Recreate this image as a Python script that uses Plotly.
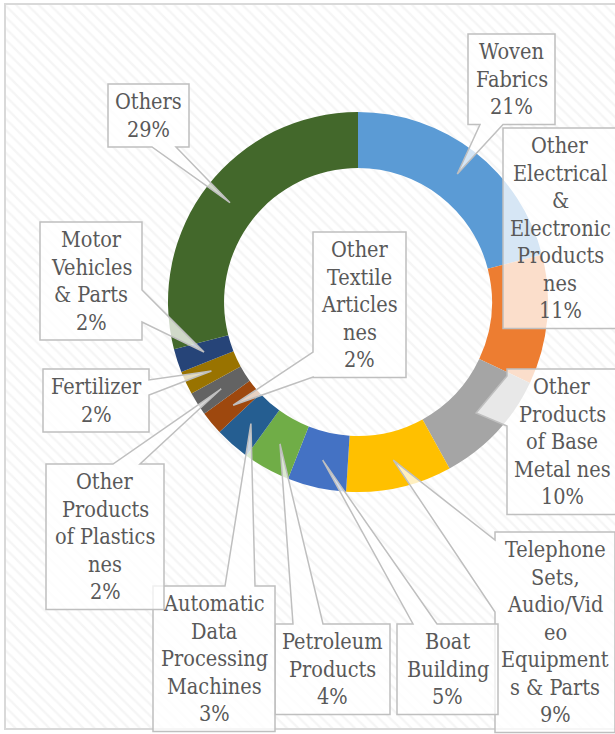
import math
import plotly.graph_objects as go

# ---------------- data ----------------
categories = [
    "Woven Fabrics",
    "Other Electrical & Electronic Products nes",
    "Other Products of Base Metal nes",
    "Telephone Sets, Audio/Video Equipments & Parts",
    "Boat Building",
    "Petroleum Products",
    "Automatic Data Processing Machines",
    "Other Textile Articles nes",
    "Other Products of Plastics nes",
    "Fertilizer",
    "Motor Vehicles & Parts",
    "Others",
]
shares = [21, 11, 10, 9, 5, 4, 3, 2, 2, 2, 2, 29]
label_lines = [
    ["Woven", "Fabrics"],
    ["Other", "Electrical", "&", "Electronic", "Products", "nes"],
    ["Other", "Products", "of Base", "Metal nes"],
    ["Telephone", "Sets,", "Audio/Vid", "eo", "Equipment", "s & Parts"],
    ["Boat", "Building"],
    ["Petroleum", "Products"],
    ["Automatic", "Data", "Processing", "Machines"],
    ["Other", "Textile", "Articles", "nes"],
    ["Other", "Products", "of Plastics", "nes"],
    ["Fertilizer"],
    ["Motor", "Vehicles", "& Parts"],
    ["Others"],
]
colors = ["#5B9BD5", "#ED7D31", "#A5A5A5", "#FFC000", "#4472C4", "#70AD47",
          "#255E91", "#9E480E", "#636363", "#997300", "#264478", "#43682B"]

# ---------------- layout (pixels) ----------------
W, H = 615, 734
CX, CY, R = 358, 302, 190
HOLE = 0.705
LINE_H = 27.5
PAD = 4
FONT_FAMILY = "DejaVu Serif Condensed, DejaVu Serif"
FONT_SIZE = 21.5

# callout boxes: x0, y0, x1, pointer side, pointer base (a, b)
callouts = [
    (468, 34, 555, "bottom", (480, 503)),
    (503, 128, 617, None, None),
    (507, 369, 617, "left", (376, 426)),
    (495, 532, 615, "left", (540, 612)),
    (397, 624, 498, "top", (413, 437)),
    (275, 624, 390, "top", (293, 323)),
    (153, 586, 275, "top", (225, 255)),
    (313, 232, 406, "left", (352, 377)),
    (46, 464, 164, "top", (113, 140)),
    (43, 369, 149, "right", (380, 395)),
    (40, 222, 142, "right", (290, 322)),
    (108, 84, 189, "bottom", (152, 176)),
]

fig = go.Figure()

# hatched chart-area background
fig.add_trace(go.Scatter(
    x=[5, 640, 640, 5, 5], y=[4, 4, 729, 729, 4],
    mode="lines", fill="toself", line=dict(width=0),
    fillcolor="white",
    fillpattern=dict(shape="\\", bgcolor="white", fgcolor="#ececec", size=8, solidity=0.3),
    hoverinfo="skip", showlegend=False,
))

fig.add_trace(go.Pie(
    labels=categories, values=shares,
    marker=dict(colors=colors, line=dict(width=0)),
    hole=HOLE, sort=False, direction="clockwise", rotation=0,
    textinfo="none", showlegend=False,
    domain=dict(x=[(CX - R) / W, (CX + R) / W], y=[1 - (CY + R) / H, 1 - (CY - R) / H]),
))

shapes = [dict(type="rect", xref="x", yref="y", x0=5, y0=4, x1=640, y1=729,
               line=dict(color="#d9d9d9", width=2), fillcolor="rgba(0,0,0,0)", layer="above")]
annotations = []

total = sum(shares)
cum = 0
r_mid = R * (1 + HOLE) / 2
for i, v in enumerate(shares):
    theta = 2 * math.pi * (cum + v / 2) / total
    cum += v
    tx = CX + r_mid * math.sin(theta)
    ty = CY - r_mid * math.cos(theta)
    x0, y0, x1, side, base = callouts[i]
    lines = label_lines[i] + [f"{v}%"]
    y1 = y0 + 2 * PAD + LINE_H * len(lines)
    pts = [(x0, y0)]
    if side == "top":
        pts += [(base[0], y0), (tx, ty), (base[1], y0)]
    pts.append((x1, y0))
    if side == "right":
        pts += [(x1, base[0]), (tx, ty), (x1, base[1])]
    pts.append((x1, y1))
    if side == "bottom":
        pts += [(base[1], y1), (tx, ty), (base[0], y1)]
    pts.append((x0, y1))
    if side == "left":
        pts += [(x0, base[1]), (tx, ty), (x0, base[0])]
    path = "M " + " L ".join(f"{px:.1f},{py:.1f}" for px, py in pts) + " Z"
    shapes.append(dict(type="path", path=path, xref="x", yref="y",
                       fillcolor="rgba(255,255,255,0.75)",
                       line=dict(color="#bfbfbf", width=1.5), layer="above"))
    xc = (x0 + x1) / 2
    for j, t in enumerate(lines):
        annotations.append(dict(
            x=xc, y=y0 + PAD + LINE_H * (j + 0.5), xref="x", yref="y",
            text=t, showarrow=False, xanchor="center", yanchor="middle",
            font=dict(family=FONT_FAMILY, size=FONT_SIZE, color="#595959"),
        ))

fig.update_layout(
    width=W, height=H,
    margin=dict(l=0, r=0, t=0, b=0),
    paper_bgcolor="white", plot_bgcolor="white",
    xaxis=dict(range=[0, W], visible=False, fixedrange=True),
    yaxis=dict(range=[H, 0], visible=False, fixedrange=True),
    shapes=shapes, annotations=annotations,
    showlegend=False,
)

fig.write_html("out.html", config={"displayModeBar": False},
               post_script="document.body.style.margin='0';document.body.style.overflow='hidden';")
